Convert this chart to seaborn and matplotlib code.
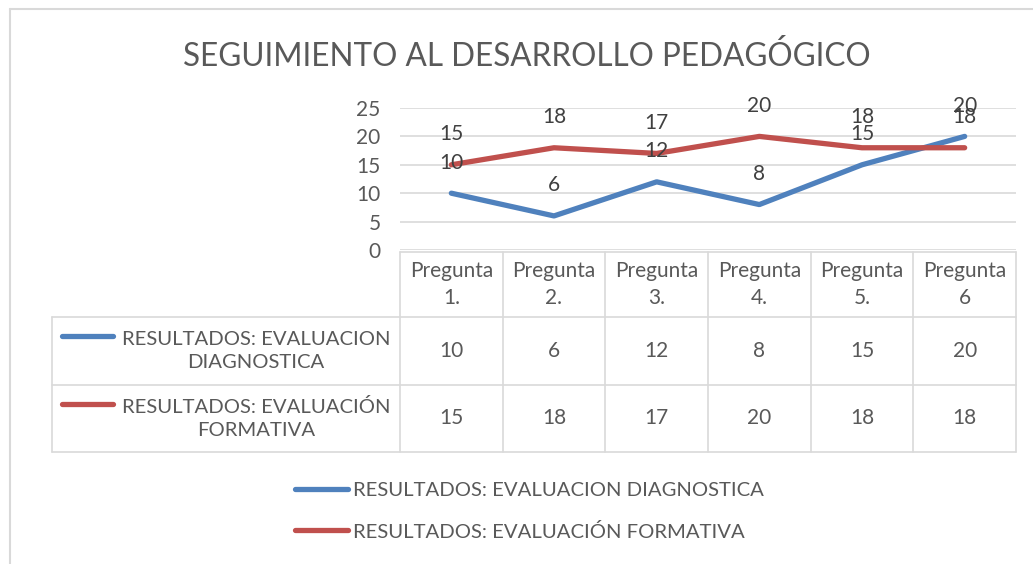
import matplotlib
matplotlib.use("Agg")
import matplotlib.pyplot as plt
import matplotlib.transforms as mtransforms
from matplotlib.lines import Line2D
import numpy as np
import pandas as pd
import seaborn as sns

sns.set_theme(style='white')
plt.rcParams['font.family'] = ['Lato', 'DejaVu Sans']

# --- data ---
preguntas = ['Pregunta\n1.', 'Pregunta\n2.', 'Pregunta\n3.', 'Pregunta\n4.', 'Pregunta\n5.', 'Pregunta\n6']
diagnostica = [10, 6, 12, 8, 15, 20]
formativa = [15, 18, 17, 20, 18, 18]
serie_diag = 'RESULTADOS: EVALUACION DIAGNOSTICA'
serie_form = 'RESULTADOS: EVALUACIÓN FORMATIVA'
filas_tabla = ['RESULTADOS: EVALUACION\nDIAGNOSTICA', 'RESULTADOS: EVALUACIÓN\nFORMATIVA']
titulo = 'SEGUIMIENTO AL DESARROLLO PEDAGÓGICO'
y_ticks = [0, 5, 10, 15, 20, 25]

azul = '#4F81BD'
rojo = '#C0504D'
gris_txt = '#595959'
gris_lin = '#D9D9D9'

W, H = 1033, 564
def fx(px):
    return px / W
def fy(py):
    return 1 - py / H

df = pd.DataFrame({
    'idx': list(range(len(preguntas))) * 2,
    'valor': diagnostica + formativa,
    'serie': [serie_diag] * len(preguntas) + [serie_form] * len(preguntas),
})

fig = plt.figure(figsize=(W / 100, H / 100), dpi=100)
ax = fig.add_axes([fx(400), fy(250), fx(1016) - fx(400), fy(108) - fy(250)])

sns.lineplot(data=df, x='idx', y='valor', hue='serie', palette=[azul, rojo],
             linewidth=3.8, ax=ax, legend=False, solid_capstyle='round')

ax.set_xlim(-0.5, len(preguntas) - 0.5)
ax.set_ylim(0, 25)
ax.set_yticks(y_ticks)
ax.set_xticks([])
ax.set_xlabel('')
ax.set_ylabel('')
ax.grid(axis='y', color=gris_lin, linewidth=1.2)
for s in ax.spines.values():
    s.set_visible(False)
ax.tick_params(axis='y', labelsize=15, labelcolor=gris_txt, length=0, pad=14)

# data labels
for serie, color in [(diagnostica, azul), (formativa, rojo)]:
    for i, v in enumerate(serie):
        ax.annotate(str(v), (i, v), xytext=(0, 22), textcoords='offset points',
                    ha='center', va='center', fontsize=15, color='#404040')

# title
fig.text(fx(527), fy(56), titulo, ha='center', va='center', fontsize=22.7, color=gris_txt)

# outer chart border (partially visible)
fig.add_artist(Line2D([fx(10), 1], [fy(9), fy(9)], color=gris_lin, lw=1.5, transform=fig.transFigure))
fig.add_artist(Line2D([fx(10), fx(10)], [fy(9), 0], color=gris_lin, lw=1.5, transform=fig.transFigure))

# data table
tr = mtransforms.blended_transform_factory(ax.transData, fig.transFigure)
y_top, y_h, y_r1, y_r2 = fy(252), fy(317), fy(385), fy(452)
ax.add_line(Line2D([-0.5, len(preguntas) - 0.5], [y_top, y_top], color=gris_lin, lw=1.2, transform=tr, clip_on=False))
for yy in [y_h, y_r1, y_r2]:
    fig.add_artist(Line2D([fx(52), fx(1016)], [yy, yy], color=gris_lin, lw=1.2, transform=fig.transFigure))
fig.add_artist(Line2D([fx(52), fx(52)], [y_h, y_r2], color=gris_lin, lw=1.2, transform=fig.transFigure))
for k in range(len(preguntas) + 1):
    ax.add_line(Line2D([k - 0.5, k - 0.5], [y_top, y_r2], color=gris_lin, lw=1.2, transform=tr, clip_on=False))

for i, lab in enumerate(preguntas):
    ax.text(i, (y_top + y_h) / 2, lab, transform=tr, ha='center', va='center',
            fontsize=15, color=gris_txt, linespacing=1.4)
    ax.text(i, (y_h + y_r1) / 2, str(diagnostica[i]), transform=tr, ha='center', va='center',
            fontsize=15, color=gris_txt)
    ax.text(i, (y_r1 + y_r2) / 2, str(formativa[i]), transform=tr, ha='center', va='center',
            fontsize=15, color=gris_txt)

for (lab, color, yc, yk) in [(filas_tabla[0], azul, (y_h + y_r1) / 2, fy(336)),
                             (filas_tabla[1], rojo, (y_r1 + y_r2) / 2, fy(404))]:
    fig.add_artist(Line2D([fx(62), fx(113)], [yk, yk], color=color, lw=3.8,
                          solid_capstyle='round', transform=fig.transFigure))
    fig.text(fx(256), yc, lab, ha='center', va='center', fontsize=14.6, color=gris_txt,
             multialignment='center', linespacing=1.45)

# legend
handles = [Line2D([0], [0], color=azul, lw=3.8, solid_capstyle='round'),
           Line2D([0], [0], color=rojo, lw=3.8, solid_capstyle='round')]
fig.legend(handles, [serie_diag, serie_form], loc='upper left',
           bbox_to_anchor=(fx(295), fy(482)), frameon=False, fontsize=14.6,
           handlelength=2.6, handletextpad=0.25, labelspacing=1.15,
           borderpad=0, borderaxespad=0, labelcolor=gris_txt)

fig.savefig('out.png', dpi=100, facecolor='white')
